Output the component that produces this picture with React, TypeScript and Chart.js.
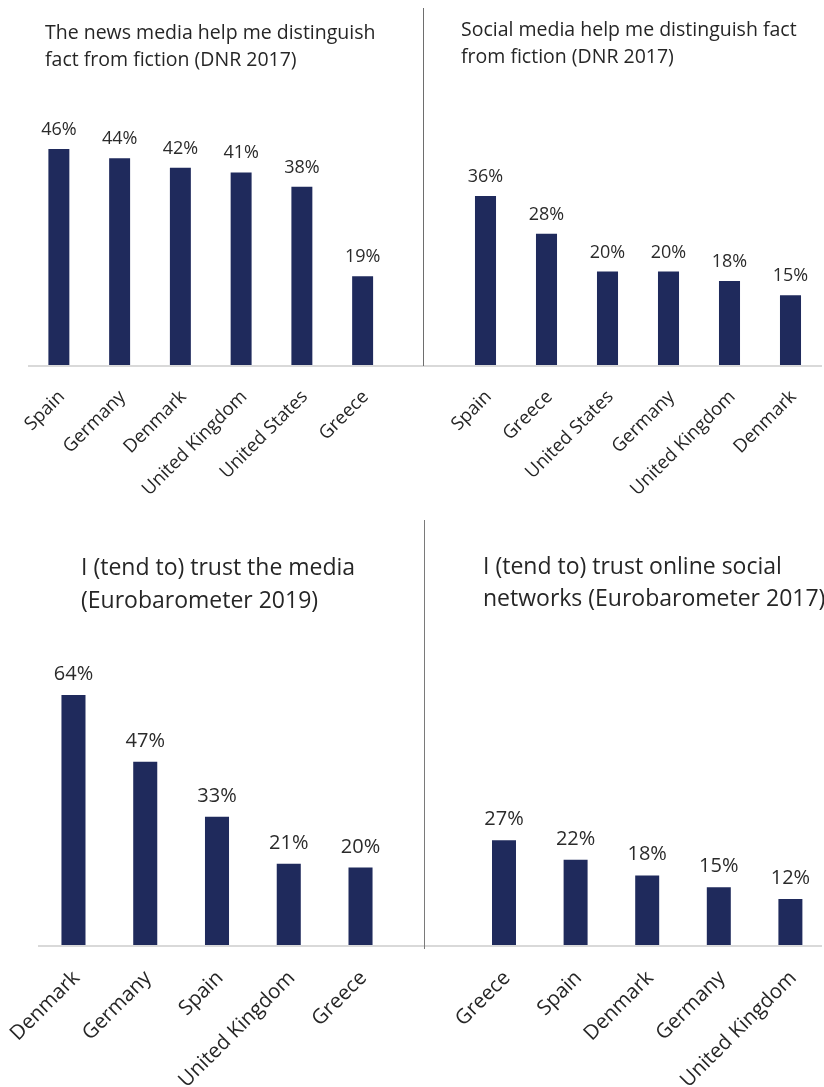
import React, { useEffect, useRef } from 'react';
import { Chart, registerables } from 'chart.js';
Chart.register(...registerables);

// ---- Data ----
const newsCategories = ['Spain', 'Germany', 'Denmark', 'United Kingdom', 'United States', 'Greece'];
const newsValues = [46, 44, 42, 41, 38, 19];
const socialCategories = ['Spain', 'Greece', 'United States', 'Germany', 'United Kingdom', 'Denmark'];
const socialValues = [36, 28, 20, 20, 18, 15];
const trustMediaCategories = ['Denmark', 'Germany', 'Spain', 'United Kingdom', 'Greece'];
const trustMediaValues = [64, 47, 33, 21, 20];
const trustSocialCategories = ['Greece', 'Spain', 'Denmark', 'Germany', 'United Kingdom'];
const trustSocialValues = [27, 22, 18, 15, 12];

const titles = [
  ['The news media help me distinguish', 'fact from fiction (DNR 2017)'],
  ['Social media help me distinguish fact', 'from fiction (DNR 2017)'],
  ['I (tend to) trust the media', '(Eurobarometer 2019)'],
  ['I (tend to) trust online social', 'networks (Eurobarometer 2017)'],
];

const FONT = '"Open Sans", "DejaVu Sans", sans-serif';
const BAR = '#1F2A5C';
const TEXT = '#262626';

const valueLabels = {
  id: 'valueLabels',
  afterDatasetsDraw(chart: any, _args: any, opts: any) {
    const { ctx } = chart;
    const meta = chart.getDatasetMeta(0);
    const data = chart.data.datasets[0].data;
    ctx.save();
    ctx.font = `${opts.size}px ${FONT}`;
    ctx.fillStyle = '#2b2b2b';
    ctx.textAlign = 'center';
    ctx.textBaseline = 'alphabetic';
    meta.data.forEach((bar: any, i: number) => {
      ctx.fillText(data[i] + '%', bar.x, bar.y - opts.gap);
    });
    ctx.restore();
  },
};

type PanelProps = {
  labels: string[];
  values: number[];
  yMax: number;
  left: number;
  top: number;
  width: number;
  height: number;
  padLeft: number;
  padRight: number;
  padTop: number;
  axisHeight: number;
  barPct: number;
  valueSize: number;
  tickSize: number;
  tickPad: number;
  tickShift: number;
  gap: number;
};

function BarPanel(p: PanelProps) {
  const ref = useRef<HTMLCanvasElement>(null);
  useEffect(() => {
    if (!ref.current) return;
    const chart = new Chart(ref.current, {
      type: 'bar',
      data: {
        labels: p.labels,
        datasets: [
          {
            data: p.values,
            backgroundColor: BAR,
            barPercentage: p.barPct,
            categoryPercentage: 1,
          },
        ],
      },
      options: {
        animation: false,
        responsive: false,
        maintainAspectRatio: false,
        layout: { padding: { left: p.padLeft, right: p.padRight, top: p.padTop, bottom: 0 } },
        plugins: {
          legend: { display: false },
          tooltip: { enabled: false },
          title: { display: false },
          valueLabels: { size: p.valueSize, gap: p.gap },
        } as any,
        scales: {
          x: {
            grid: { display: false, drawTicks: false },
            border: { display: false },
            ticks: {
              minRotation: 45,
              maxRotation: 45,
              autoSkip: false,
              padding: p.tickPad,
              labelOffset: p.tickShift,
              color: TEXT,
              font: { family: FONT, size: p.tickSize },
            },
            afterFit: (scale: any) => {
              scale.height = p.axisHeight;
              scale.paddingLeft = 0;
              scale.paddingRight = 0;
            },
          },
          y: { display: false, min: 0, max: p.yMax },
        },
      },
      plugins: [valueLabels as any],
    });
    return () => chart.destroy();
  }, []);
  return (
    <canvas
      ref={ref}
      width={p.width}
      height={p.height}
      style={{ position: 'absolute', left: p.left, top: p.top, width: p.width, height: p.height, display: 'block' }}
    />
  );
}

function Title({ lines, left, top, size, lh }: { lines: string[]; left: number; top: number; size: number; lh: number }) {
  return (
    <div
      style={{
        position: 'absolute',
        left,
        top,
        fontFamily: FONT,
        fontSize: size,
        lineHeight: lh + 'px',
        color: TEXT,
        whiteSpace: 'nowrap',
      }}
    >
      {lines.map((l, i) => (
        <div key={i}>{l}</div>
      ))}
    </div>
  );
}

export default function App() {
  return (
    <div
      style={{
        position: 'absolute',
        left: 0,
        top: 0,
        width: 824,
        height: 1087,
        overflow: 'hidden',
        background: '#ffffff',
      }}
    >
      <BarPanel
        labels={newsCategories}
        values={newsValues}
        yMax={50}
        left={0}
        top={0}
        width={424}
        height={520}
        padLeft={28.5}
        padRight={31}
        padTop={130}
        axisHeight={154}
        barPct={0.345}
        valueSize={18}
        tickSize={18.5}
        tickPad={20}
        tickShift={3}
        gap={14}
      />
      <BarPanel
        labels={socialCategories}
        values={socialValues}
        yMax={50}
        left={424}
        top={0}
        width={400}
        height={520}
        padLeft={31}
        padRight={3}
        padTop={130}
        axisHeight={154}
        barPct={0.345}
        valueSize={18}
        tickSize={18.5}
        tickPad={20}
        tickShift={3}
        gap={14}
      />
      <BarPanel
        labels={trustMediaCategories}
        values={trustMediaValues}
        yMax={70}
        left={0}
        top={520}
        width={424}
        height={567}
        padLeft={37.6}
        padRight={27.6}
        padTop={151.6}
        axisHeight={141}
        barPct={0.335}
        valueSize={20}
        tickSize={20.5}
        tickPad={20}
        tickShift={3}
        gap={15}
      />
      <BarPanel
        labels={trustSocialCategories}
        values={trustSocialValues}
        yMax={70}
        left={424}
        top={520}
        width={404}
        height={567}
        padLeft={44.2}
        padRight={1.8}
        padTop={151.6}
        axisHeight={141}
        barPct={0.335}
        valueSize={20}
        tickSize={20.5}
        tickPad={20}
        tickShift={3}
        gap={15}
      />
      {/* axis lines */}
      <div style={{ position: 'absolute', left: 28, top: 365, width: 794, height: 2, background: '#D9D9D9' }} />
      <div style={{ position: 'absolute', left: 38, top: 945, width: 784, height: 2, background: '#D9D9D9' }} />
      {/* dividers */}
      <div style={{ position: 'absolute', left: 422.5, top: 8, width: 1.5, height: 358, background: '#6E6E6E' }} />
      <div style={{ position: 'absolute', left: 423.5, top: 520, width: 1.5, height: 429, background: '#7A7A7A' }} />
      {/* titles */}
      <Title lines={titles[0]} left={45} top={18} size={19.5} lh={27} />
      <Title lines={titles[1]} left={461} top={15} size={19.5} lh={27} />
      <Title lines={titles[2]} left={81} top={549.5} size={23} lh={33} />
      <Title lines={titles[3]} left={483} top={549} size={23} lh={32} />
    </div>
  );
}
